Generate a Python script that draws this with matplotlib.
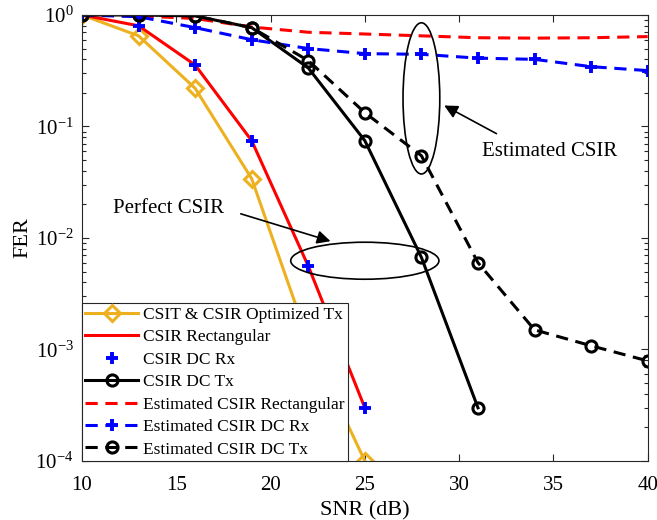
import numpy as np
import matplotlib.pyplot as plt
from matplotlib.patches import Ellipse

plt.rcParams['font.family'] = ['Liberation Serif', 'DejaVu Serif']
plt.rcParams['mathtext.fontset'] = 'custom'
plt.rcParams['mathtext.rm'] = 'Liberation Serif'
plt.rcParams['mathtext.it'] = 'Liberation Serif:italic'
plt.rcParams['mathtext.bf'] = 'Liberation Serif:bold'

# data
snr_opt = [10, 13, 16, 19, 22, 25]
fer_opt = [1.0, 0.65, 0.22, 0.034, 1.2e-3, 1.0e-4]

snr_rect = [10, 13, 16, 19, 22, 25]
fer_rect = [1.0, 0.80, 0.356, 0.0746, 5.6e-3, 3.0e-4]

snr_dcrx = [10, 13, 16, 19, 22, 25]
fer_dcrx = [1.0, 0.80, 0.356, 0.0746, 5.6e-3, 3.0e-4]

snr_dctx = [10, 13, 16, 19, 22, 25, 28, 31]
fer_dctx = [1.0, 1.0, 0.98, 0.77, 0.335, 0.0746, 6.7e-3, 3.0e-4]

snr_est = [10, 13, 16, 19, 22, 25, 28, 31, 34, 37, 40]
fer_est_rect = [1.0, 0.98, 0.93, 0.78, 0.70, 0.675, 0.65, 0.625, 0.62, 0.625, 0.64]
fer_est_dcrx = [1.0, 0.965, 0.77, 0.60, 0.50, 0.45, 0.444, 0.41, 0.40, 0.344, 0.317]
fer_est_dctx = [1.0, 1.0, 0.98, 0.77, 0.39, 0.133, 0.0547, 6.0e-3, 1.5e-3, 1.08e-3, 7.9e-4]

orange = '#EDB120'

fig = plt.figure(figsize=(6.57, 5.2), dpi=100)
ax = fig.add_axes([0.1248, 0.1135, 0.861, 0.8577])

ax.plot(snr_opt, fer_opt, '-', color=orange, lw=2.2, marker='D', ms=8,
        mfc='none', mec=orange, mew=2.2, label='CSIT & CSIR Optimized Tx')
ax.plot(snr_rect, fer_rect, '-', color='r', lw=2.2, label='CSIR Rectangular')
ax.plot(snr_dcrx, fer_dcrx, linestyle='none', color='b', marker='+', ms=9, mew=2.8,
        label='CSIR DC Rx')
ax.plot(snr_dctx, fer_dctx, '-', color='k', lw=2.2, marker='o', ms=8,
        mfc='none', mew=2.2, label='CSIR DC Tx')
ax.plot(snr_est, fer_est_rect, '--', color='r', lw=2.2, dashes=(4, 2.5),
        label='Estimated CSIR Rectangular')
ax.plot(snr_est, fer_est_dcrx, '--', color='b', lw=2.2, dashes=(4, 2.5),
        marker='+', ms=9, mew=2.8, label='Estimated CSIR DC Rx')
ax.plot(snr_est, fer_est_dctx, '--', color='k', lw=2.2, dashes=(4, 2.5),
        marker='o', ms=8, mfc='none', mew=2.2, label='Estimated CSIR DC Tx')

ax.set_yscale('log')
ax.set_xlim(10, 40)
ax.set_ylim(1e-4, 1)
ax.set_xticks([10, 15, 20, 25, 30, 35, 40])
ax.set_yticks([1e-4, 1e-3, 1e-2, 1e-1, 1])
ax.set_yticklabels([r'$10^{-4}$', r'$10^{-3}$', r'$10^{-2}$', r'$10^{-1}$', r'$10^{0}$'])
ax.tick_params(which='both', direction='in', top=True, right=True,
               labelsize=15, width=0.8, color='#262626')
ax.tick_params(which='major', length=5)
ax.tick_params(which='minor', length=3)
ax.tick_params(axis='x', pad=11)
ax.tick_params(axis='y', pad=6)
for s in ax.spines.values():
    s.set_linewidth(0.8)
    s.set_color('#262626')

ax.set_xlabel('SNR (dB)', fontsize=16, labelpad=4)
ax.set_ylabel('FER', fontsize=16, labelpad=2)

# annotations (ellipses + arrows)
ax.add_patch(Ellipse((0.500, 0.449), 0.262, 0.083, transform=ax.transAxes,
                     fill=False, ec='k', lw=1.2, zorder=5))
ax.add_patch(Ellipse((0.600, 0.813), 0.065, 0.339, transform=ax.transAxes,
                     fill=False, ec='k', lw=1.2, zorder=5))
ax.annotate('', xy=(0.444, 0.491), xytext=(0.276, 0.556), xycoords='axes fraction',
            arrowprops=dict(arrowstyle='-|>', color='k', lw=1.2, mutation_scale=20))
ax.annotate('', xy=(0.636, 0.800), xytext=(0.737, 0.731), xycoords='axes fraction',
            arrowprops=dict(arrowstyle='-|>', color='k', lw=1.2, mutation_scale=20))
ax.text(0.055, 0.567, 'Perfect CSIR', transform=ax.transAxes, fontsize=15,
        va='center', ha='left')
ax.text(0.708, 0.693, 'Estimated CSIR', transform=ax.transAxes, fontsize=15,
        va='center', ha='left')

leg = ax.legend(loc='lower left', fontsize=12.5, handlelength=3.0,
                borderaxespad=0, fancybox=False, framealpha=1,
                edgecolor='#262626', borderpad=0.2, labelspacing=0.36,
                handletextpad=0.3)
leg.get_frame().set_linewidth(0.8)
leg.set_zorder(10)

fig.savefig('out.png', dpi=100)
